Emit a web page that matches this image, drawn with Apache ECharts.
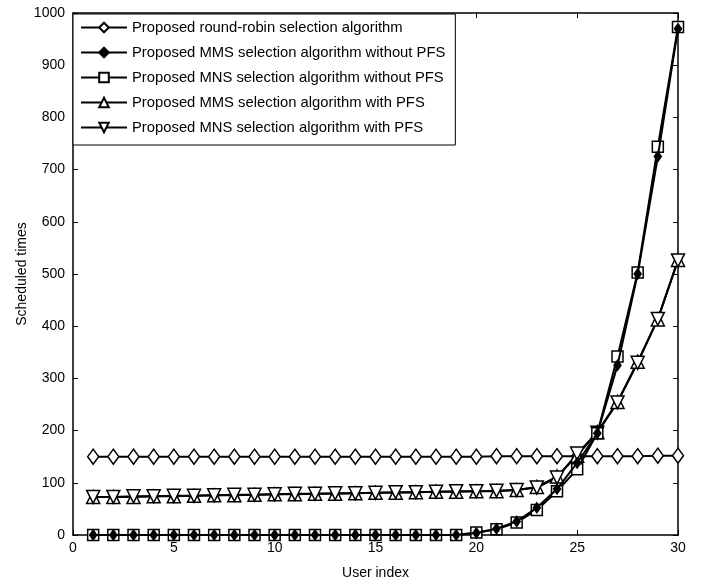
<!DOCTYPE html>
<html>
<head>
<meta charset="utf-8">
<script src="https://cdn.jsdelivr.net/npm/echarts@6/dist/echarts.min.js"></script>
<style>
  html, body { margin: 0; padding: 0; background: #fff; }
  #chart { width: 710px; height: 585px; }
</style>
</head>
<body>
<div id="chart"></div>
<script>
// user index 1..30
const userIndex = Array.from({ length: 30 }, (_, i) => i + 1);

const roundRobin = [150, 150, 150, 150, 150, 150, 150, 150, 150, 150,
  150, 150, 150, 150, 150, 150, 150, 150, 150, 150,
  151, 151, 151, 151, 151, 151, 151, 151, 152, 152];

const mmsNoPfs = [0, 0, 0, 0, 0, 0, 0, 0, 0, 0,
  0, 0, 0, 0, 0, 0, 0, 0, 0, 4,
  12, 26, 52, 88, 138, 195, 325, 500, 725, 970];

const mnsNoPfs = [0, 0, 0, 0, 0, 0, 0, 0, 0, 0,
  0, 0, 0, 0, 0, 0, 0, 0, 0, 5,
  11, 24, 48, 84, 126, 195, 342, 503, 744, 973];

const mmsPfs = [73, 73, 73, 74, 74, 75, 76, 76, 77, 78,
  78, 79, 79, 80, 81, 81, 82, 83, 83, 84,
  84, 86, 92, 112, 152, 197, 255, 332, 413, 527];

const mnsPfs = [73, 73, 74, 74, 75, 75, 76, 77, 77, 78,
  79, 79, 80, 80, 81, 82, 82, 83, 84, 84,
  85, 86, 91, 110, 156, 196, 254, 330, 414, 526];

const toPairs = (arr) => arr.map((v, i) => [userIndex[i], v]);

const chart = echarts.init(document.getElementById('chart'));

const font = 'Liberation Sans, Arial, sans-serif';
const downTri = 'path://M0,0 L10,0 L5,9 Z';

const baseSeries = (name, data, symbol, size, filled, z) => ({
  name,
  type: 'line',
  data: toPairs(data),
  symbol,
  symbolSize: size,
  showSymbol: true,
  z,
  lineStyle: { color: '#000', width: 2 },
  itemStyle: {
    color: filled ? '#000' : '#fff',
    borderColor: '#000',
    borderWidth: 1.5,
  },
  emphasis: { disabled: true },
  animation: false,
});

const frameAxis = {
  axisLine: { show: true, onZero: false, lineStyle: { color: '#000', width: 1.5 } },
  axisTick: { show: true, inside: true, length: 5, lineStyle: { color: '#000' } },
  splitLine: { show: false },
};

const option = {
  backgroundColor: '#fff',
  textStyle: { fontFamily: font },
  grid: { left: 73, right: 32, top: 13, bottom: 49 },
  legend: {
    orient: 'vertical',
    left: 73,
    top: 14,
    padding: [6, 10, 10, 7],
    itemWidth: 46,
    itemHeight: 12,
    itemGap: 10,
    backgroundColor: '#fff',
    borderColor: '#000',
    borderWidth: 1,
    borderRadius: 0,
    textStyle: { color: '#000', fontSize: 14.8, fontFamily: font },
    data: [
      'Proposed round-robin selection algorithm',
      'Proposed MMS selection algorithm without PFS',
      'Proposed MNS selection algorithm without PFS',
      'Proposed MMS selection algorithm with PFS',
      'Proposed MNS selection algorithm with PFS',
    ],
  },
  xAxis: [
    {
      ...frameAxis,
      type: 'value',
      min: 0,
      max: 30,
      interval: 5,
      name: 'User index',
      nameLocation: 'middle',
      nameGap: 31,
      nameTextStyle: { color: '#000', fontSize: 14, fontFamily: font },
      axisLabel: { color: '#000', fontSize: 14, margin: 6, fontFamily: font },
    },
    {
      ...frameAxis,
      type: 'value',
      position: 'top',
      min: 0,
      max: 30,
      interval: 5,
      axisLabel: { show: false },
    },
  ],
  yAxis: [
    {
      ...frameAxis,
      type: 'value',
      min: 0,
      max: 1000,
      interval: 100,
      name: 'Scheduled times',
      nameLocation: 'middle',
      nameGap: 44,
      nameMoveOverlap: false,
      nameTextStyle: { color: '#000', fontSize: 14, fontFamily: font },
      axisLabel: {
        color: '#000',
        fontSize: 14,
        margin: 8,
        fontFamily: font,
        formatter: (v) => String(v),
      },
    },
    {
      ...frameAxis,
      type: 'value',
      position: 'right',
      min: 0,
      max: 1000,
      interval: 100,
      axisLabel: { show: false },
    },
  ],
  series: [
    baseSeries('Proposed round-robin selection algorithm', roundRobin, 'diamond', [11, 15], false, 2),
    baseSeries('Proposed MMS selection algorithm without PFS', mmsNoPfs, 'diamond', [7, 10], true, 4),
    baseSeries('Proposed MNS selection algorithm without PFS', mnsNoPfs, 'rect', 11, false, 3),
    baseSeries('Proposed MMS selection algorithm with PFS', mmsPfs, 'triangle', 13, false, 2),
    baseSeries('Proposed MNS selection algorithm with PFS', mnsPfs, downTri, 13, false, 2),
  ],
};

chart.setOption(option);
</script>
</body>
</html>
